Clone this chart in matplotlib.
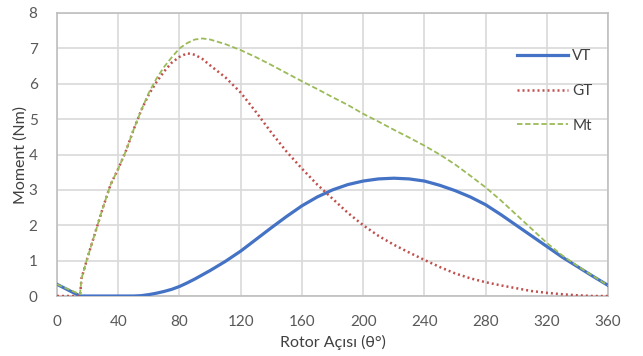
import matplotlib
matplotlib.use("Agg")
import matplotlib.pyplot as plt

plt.rcParams['font.family'] = ['Lato', 'DejaVu Sans']

# rotor angle (deg)
angle = [0, 15, 16, 20, 25, 30, 35, 40, 45, 50, 55, 60, 65, 70, 75, 80, 85, 90, 95,
         100, 110, 120, 130, 140, 150, 160, 170, 180, 190, 200, 210, 220, 230, 240,
         250, 260, 270, 280, 290, 300, 310, 320, 330, 340, 350, 360]

vt = [0.33, 0.0, 0.0, 0.0, 0.0, 0.0, 0.0, 0.0, 0.0, 0.0, 0.01, 0.04, 0.08, 0.13, 0.19,
      0.27, 0.37, 0.48, 0.6, 0.72, 0.98, 1.27, 1.6, 1.93, 2.25, 2.55, 2.8, 3.0,
      3.15, 3.25, 3.31, 3.33, 3.31, 3.25, 3.13, 2.98, 2.8, 2.58, 2.3, 2.0, 1.7, 1.4,
      1.1, 0.83, 0.56, 0.3]

gt = [0.0, 0.0, 0.5, 1.1, 1.8, 2.5, 3.15, 3.6, 4.1, 4.7, 5.25, 5.7, 6.05, 6.35, 6.6,
      6.76, 6.86, 6.82, 6.7, 6.52, 6.18, 5.75, 5.2, 4.62, 4.08, 3.6, 3.15, 2.75, 2.35,
      2.0, 1.7, 1.45, 1.23, 1.02, 0.82, 0.64, 0.5, 0.39, 0.3, 0.22, 0.14, 0.09, 0.05,
      0.02, 0.0, 0.0]

mt = [0.33, 0.05, 0.5, 1.1, 1.8, 2.5, 3.15, 3.6, 4.1, 4.7, 5.25, 5.75, 6.15, 6.48,
      6.75, 7.0, 7.15, 7.25, 7.28, 7.25, 7.12, 6.95, 6.75, 6.53, 6.3, 6.07, 5.85,
      5.62, 5.4, 5.15, 4.93, 4.7, 4.48, 4.25, 4.0, 3.72, 3.4, 3.07, 2.7, 2.3, 1.9, 1.5,
      1.15, 0.85, 0.57, 0.3]

xticks = list(range(0, 361, 40))
yticks = list(range(0, 9))

fig = plt.figure(figsize=(6.43, 3.56), dpi=100)
ax = fig.add_axes([0.0887, 0.1685, 0.857, 0.795])

ax.plot(angle, vt, color='#4472C4', lw=2.3, label='VT', zorder=3)
ax.plot(angle, gt, color='#C0504D', lw=1.8, ls=(0, (0.8, 1.2)), label='GT', zorder=4)
ax.plot(angle, mt, color='#9BBB59', lw=1.3, ls=(0, (3, 1.5)), label='Mt', zorder=5)

ax.set_xlim(0, 360)
ax.set_ylim(0, 8)
ax.set_xticks(xticks)
ax.set_yticks(yticks)
ax.grid(True, color='#D9D9D9', lw=1.2)
ax.set_axisbelow(True)
for s in ax.spines.values():
    s.set_color('#BFBFBF')
    s.set_linewidth(1.2)
ax.tick_params(length=0, labelsize=11, colors='#595959')
ax.tick_params(axis='x', pad=14)
ax.tick_params(axis='y', pad=14)

ax.set_xlabel('Rotor Açısı (θ°)', fontsize=11.5, color='#404040', labelpad=4)
ax.set_ylabel('Moment (Nm)', fontsize=11.5, color='#404040', labelpad=1)

ax.legend(loc='upper left', bbox_to_anchor=(0.81, 0.92), frameon=False,
          handlelength=3.3, handletextpad=0.3, labelspacing=1.35, fontsize=11,
          labelcolor='#404040')

fig.savefig('out.png', dpi=100)
